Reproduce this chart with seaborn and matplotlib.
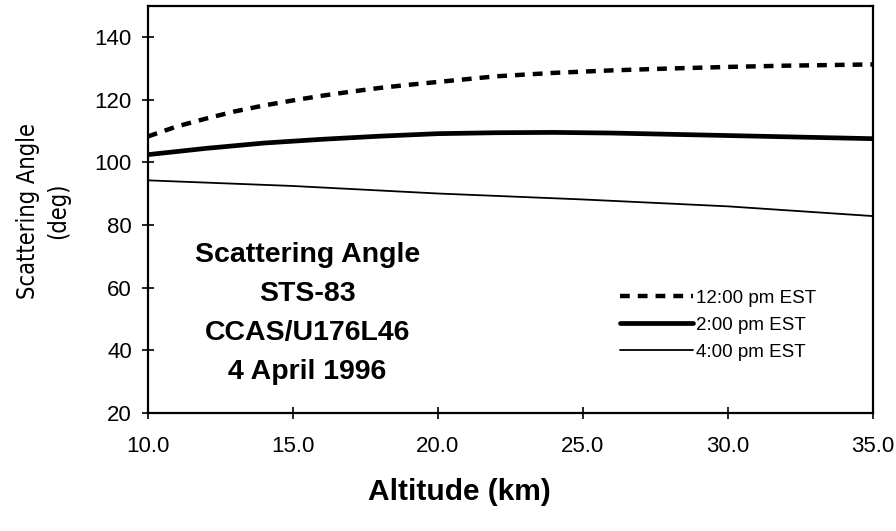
import seaborn as sns
import pandas as pd
import matplotlib.pyplot as plt

# altitude (km) -> scattering angle (deg)
alt_12 = [10, 11, 12, 13, 14, 15, 16, 17, 18, 19, 20, 21, 22, 24, 26, 28, 30, 32, 35]
ang_12 = [108.3, 111.5, 114.0, 116.3, 118.2, 119.8, 121.3, 122.6, 123.8, 124.8, 125.7,
          126.6, 127.5, 128.6, 129.4, 130.0, 130.5, 130.9, 131.3]

alt_2 = [10, 12, 14, 16, 18, 20, 22, 24, 26, 28, 30, 32, 35]
ang_2 = [102.5, 104.5, 106.2, 107.4, 108.4, 109.2, 109.5, 109.6, 109.4, 109.0, 108.6, 108.2, 107.6]

alt_4 = [10, 15, 20, 25, 30, 35]
ang_4 = [94.3, 92.5, 90.1, 88.2, 86.0, 82.9]

series_labels = ['12:00 pm EST', '2:00 pm EST', '4:00 pm EST']
x_ticks = [10, 15, 20, 25, 30, 35]
y_ticks = [20, 40, 60, 80, 100, 120, 140]

sns.set_style('ticks')
plt.rcParams['font.family'] = ['Liberation Sans', 'DejaVu Sans']
for key in ['text.color', 'axes.labelcolor', 'xtick.color', 'ytick.color']:
    plt.rcParams[key] = 'black'

fig = plt.figure(figsize=(8.96, 5.31), dpi=100)
ax = fig.add_axes([0.165, 0.222, 0.809, 0.767])

sns.lineplot(x=alt_12, y=ang_12, ax=ax, color='black', lw=3.2,
             label=series_labels[0]).lines[-1].set_dashes((2.2, 1.8))
sns.lineplot(x=alt_2, y=ang_2, ax=ax, color='black', lw=3.4, label=series_labels[1])
sns.lineplot(x=alt_4, y=ang_4, ax=ax, color='black', lw=1.3, label=series_labels[2])

ax.set_xlim(10, 35)
ax.set_ylim(20, 150)
ax.set_xticks(x_ticks)
ax.set_xticklabels([f'{v:.1f}' for v in x_ticks])
ax.set_yticks(y_ticks)
ax.tick_params(axis='both', direction='inout', length=9, width=1.2, labelsize=16,
               color='black')
ax.tick_params(axis='x', pad=12)
ax.tick_params(axis='y', pad=7)
for sp in ax.spines.values():
    sp.set_linewidth(1.6)
    sp.set_color('black')

ax.set_xlabel('Altitude (km)', fontsize=21.5, fontweight='bold')
ax.xaxis.set_label_coords(0.43, -0.16)
ax.set_ylabel('')
fig.text(43 / 896, 1 - 211 / 531, 'Scattering Angle\n(deg)', rotation=90,
         ha='center', va='center', fontsize=17, linespacing=1.3,
         family='DejaVu Sans', fontstretch='condensed', fontweight='light')

ax.text(15.5, 51.8, 'Scattering Angle\nSTS-83\nCCAS/U176L46\n4 April 1996',
        ha='center', va='center', fontsize=20.5, fontweight='bold', linespacing=1.64)

leg = ax.legend(loc='upper left', bbox_to_anchor=(0.651, 0.303), frameon=False,
                fontsize=13.5, handlelength=3.9, handletextpad=0.15, labelspacing=0.52,
                borderpad=0, borderaxespad=0)

fig.savefig('out.png', dpi=100)
